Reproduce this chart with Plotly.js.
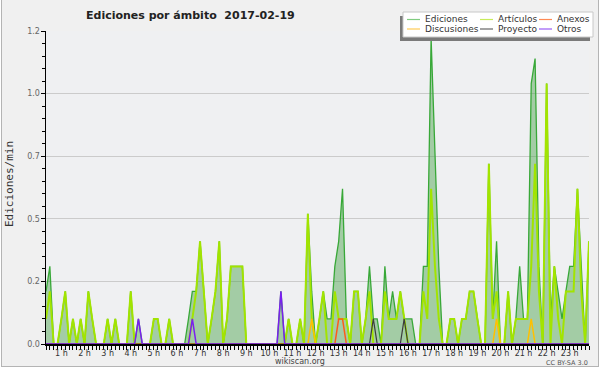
<!DOCTYPE html>
<html><head><meta charset="utf-8">
<script src="https://cdn.plot.ly/plotly-3.0.1.min.js"></script>
<style>
html,body{margin:0;padding:0;background:#fff;}
#wrap{position:relative;width:600px;height:370px;overflow:hidden;}
#frame{position:absolute;left:1px;top:-1px;width:596px;height:366px;background:#f0f0f0;border:1px solid #b4b4b4;}
#chart{position:absolute;left:0;top:0;width:600px;height:370px;}
</style></head>
<body><div id="wrap"><div id="frame"></div><div id="chart"></div></div>
<script>
// time grid: first bin 00:20, one point every 10 minutes, last 23:50
const startHour = 20/60;
const stepHour = 10/60;

// edits per minute, 10-minute bins (12 values per row = 2 hours)
const ediciones = [
 0.21,0.31,0,0,0.10,0.21,0,0.10,0,0.10,0,0.21,
 0.10,0,0,0,0.10,0,0.10,0,0,0,0.21,0,
 0.10,0,0,0,0.10,0.10,0,0,0.10,0,0,0,
 0,0.10,0.21,0.21,0.41,0.21,0,0.10,0.21,0.41,0,0.10,
 0.31,0.31,0.31,0.31,0,0,0,0,0,0,0,0,
 0,0.21,0,0.10,0,0,0.10,0,0.52,0.21,0,0.10,
 0.21,0.10,0.10,0.31,0.41,0.62,0.10,0,0.21,0.21,0,0.10,
 0.31,0.10,0.10,0,0.31,0.10,0.21,0.10,0.21,0.10,0.10,0.10,
 0,0,0.31,0.31,1.22,0.72,0.31,0,0,0.10,0.10,0,
 0.10,0.10,0.21,0.21,0.10,0,0,0.72,0.10,0.41,0,0,
 0.21,0,0.10,0.31,0.10,0.10,1.04,1.14,0.31,0,1.04,0.10,
 0.31,0.21,0.10,0.21,0.31,0.31,0.62,0.31,0,0.41
];
const articulos = [
 0.10,0.21,0,0,0.10,0.21,0,0.10,0,0.10,0,0.21,
 0.10,0,0,0,0.10,0,0.10,0,0,0,0.21,0,
 0,0,0,0,0.10,0.10,0,0,0.10,0,0,0,
 0,0,0.10,0.21,0.41,0.21,0,0.10,0.21,0.41,0,0.10,
 0.31,0.31,0.31,0.31,0,0,0,0,0,0,0,0,
 0,0,0,0.10,0,0,0.10,0,0.52,0.10,0,0.10,
 0.21,0,0,0.21,0.10,0.10,0.10,0,0.21,0.21,0,0.10,
 0.21,0,0,0,0.21,0.10,0.10,0.10,0.21,0.10,0,0,
 0,0,0.21,0.10,0.62,0.31,0.10,0,0,0.10,0.10,0,
 0.10,0.10,0.21,0.21,0.10,0,0,0.72,0.10,0.21,0,0,
 0.21,0,0.10,0.10,0.10,0.10,0.31,0.72,0.21,0,1.04,0,
 0.31,0.10,0,0.21,0.21,0.21,0.62,0.21,0,0.41
];
const anexos = [
 0,0,0,0,0,0,0,0,0,0,0,0,
 0,0,0,0,0,0,0,0,0,0,0,0,
 0,0,0,0,0,0,0,0,0,0,0,0,
 0,0,0,0,0,0,0,0,0,0,0,0,
 0,0,0,0,0,0,0,0,0,0,0,0,
 0,0,0,0,0,0,0,0,0,0,0,0,
 0,0,0,0,0.10,0.10,0,0,0,0,0,0,
 0,0,0,0,0,0,0,0,0,0,0,0,
 0,0,0,0,0,0,0,0,0,0,0,0,
 0,0,0,0,0,0,0,0,0,0,0,0,
 0,0,0,0,0,0,0,0,0,0,0,0,
 0,0,0,0,0,0,0,0,0,0
];
const discusiones = [
 0,0,0,0,0,0,0,0,0,0,0,0,
 0,0,0,0,0,0,0,0,0,0,0,0,
 0,0,0,0,0,0,0,0,0,0,0,0,
 0,0,0,0,0,0,0,0,0,0,0,0,
 0,0,0,0,0,0,0,0,0,0,0,0,
 0,0,0,0,0,0,0,0,0,0.10,0,0,
 0,0,0,0,0,0,0,0,0,0,0,0,
 0,0,0,0,0,0,0,0,0,0,0,0,
 0,0,0,0,0,0,0,0,0,0,0,0,
 0,0,0,0,0,0,0,0,0,0.10,0,0,
 0,0,0,0,0,0,0.10,0,0,0,0,0,
 0,0,0,0,0,0,0,0,0,0
];
const proyecto = [
 0,0,0,0,0,0,0,0,0,0,0,0,
 0,0,0,0,0,0,0,0,0,0,0,0,
 0,0,0,0,0,0,0,0,0,0,0,0,
 0,0,0,0,0,0,0,0,0,0,0,0,
 0,0,0,0,0,0,0,0,0,0,0,0,
 0,0,0,0,0,0,0,0,0,0,0,0,
 0,0,0,0,0,0,0,0,0,0,0,0,
 0,0.10,0,0,0,0,0,0,0,0.10,0,0,
 0,0,0,0,0,0,0,0,0,0,0,0,
 0,0,0,0,0,0,0,0,0,0,0,0,
 0,0,0,0,0,0,0,0,0,0,0,0,
 0,0,0,0,0,0,0,0,0,0
];
const otros = [
 0,0,0,0,0,0,0,0,0,0,0,0,
 0,0,0,0,0,0,0,0,0,0,0,0,
 0.10,0,0,0,0,0,0,0,0,0,0,0,
 0,0,0.10,0,0,0,0,0,0,0,0,0,
 0,0,0,0,0,0,0,0,0,0,0,0,
 0,0.21,0,0,0,0,0,0,0,0,0,0,
 0,0,0,0,0,0,0,0,0,0,0,0,
 0,0,0,0,0,0,0,0,0,0,0,0,
 0,0,0,0,0,0,0,0,0,0,0,0,
 0,0,0,0,0,0,0,0,0,0,0,0,
 0,0,0,0,0,0,0,0,0,0,0,0,
 0,0,0,0,0,0,0,0,0,0
];

const yTickVals = [0, 0.25, 0.5, 0.75, 1.0, 1.25];
const yTickText = ['0.0', '0.2', '0.5', '0.7', '1.0', '1.2'];
const seriesNames = ['Ediciones', 'Artículos', 'Anexos', 'Discusiones', 'Proyecto', 'Otros'];
const titleText = 'Ediciones por ámbito\u00a0\u00a02017-02-19';
const yTitle = 'Ediciones/min';

const times = ediciones.map((_, i) => startHour + i * stepHour);
const tickText = times.map(t => Math.abs(t - Math.round(t)) < 1e-6 ? Math.round(t) + ' h' : '');

// pixel helpers for decorations
const L = 46, R = 589, T = 31, B = 344;
const px = x => (x - L) / (R - L);
const py = y => (B - y) / (B - T);

const lineColors = ['#38a838', '#a2e400', '#ff5a1a', '#ffc000', '#3c3c3c', '#7a1ff0'];
const legendColors = ['#80cc80', '#c8ec5a', '#ff8a55', '#ffcc55', '#666666', '#9a5cf5'];
const seriesData = [ediciones, articulos, anexos, discusiones, proyecto, otros];
const widths = [1.3, 2, 1.5, 1.5, 1.2, 1.5];

const traces = seriesData.map((ys, k) => {
  const tr = {x: times, y: ys, type: 'scatter', mode: 'lines', name: seriesNames[k],
    line: {color: lineColors[k], width: widths[k]}, hoverinfo: 'skip'};
  if (k === 0) { tr.fill = 'tozeroy'; tr.fillcolor = 'rgba(70,160,70,0.45)'; }
  return tr;
});

// legend layout (pixel positions)
const legCols = [[407, 424], [480, 497], [539, 556]];
const legRows = [19.5, 29];
const legOrder = [0, 1, 2, 3, 4, 5];
const shapes = [
  {type: 'rect', xref: 'paper', yref: 'paper', x0: px(400), x1: px(590), y0: py(16), y1: py(41),
   fillcolor: '#7a7a7a', line: {width: 0}, layer: 'above'},
  {type: 'rect', xref: 'paper', yref: 'paper', x0: px(403), x1: px(593), y0: py(12), y1: py(37),
   fillcolor: '#ffffff', line: {color: '#c8c8c8', width: 1}, layer: 'above'}
];
const annotations = [];
legOrder.forEach((k, idx) => {
  const col = legCols[idx % 3], row = legRows[Math.floor(idx / 3)];
  shapes.push({type: 'line', xref: 'paper', yref: 'paper', x0: px(col[0]), x1: px(col[0] + 13),
    y0: py(row), y1: py(row), line: {color: legendColors[k], width: 1.2}, layer: 'above'});
  annotations.push({xref: 'paper', yref: 'paper', x: px(col[1]), y: py(row), xanchor: 'left', yanchor: 'middle',
    text: seriesNames[k], showarrow: false, borderpad: 0,
    font: {family: 'DejaVu Sans', size: 9, color: '#333'}});
});
annotations.push({xref: 'paper', yref: 'paper', x: px(85), y: py(15), xanchor: 'left', yanchor: 'middle',
  text: '<b>' + titleText + '</b>', showarrow: false, borderpad: 0,
  font: {family: 'DejaVu Sans', size: 11, color: '#222'}});
annotations.push({xref: 'paper', yref: 'paper', x: px(9), y: py(184), xanchor: 'center', yanchor: 'middle',
  text: yTitle, textangle: -90, showarrow: false, borderpad: 0,
  font: {family: 'DejaVu Sans Mono', size: 11, color: '#333'}});
annotations.push({xref: 'paper', yref: 'paper', x: px(300), y: py(361.5), xanchor: 'center', yanchor: 'middle',
  text: 'wikiscan.org', showarrow: false, borderpad: 0,
  font: {family: 'DejaVu Sans', size: 8, color: '#444'}});
annotations.push({xref: 'paper', yref: 'paper', x: px(589), y: py(362.5), xanchor: 'right', yanchor: 'middle',
  text: 'CC BY-SA 3.0', showarrow: false, borderpad: 0,
  font: {family: 'DejaVu Sans', size: 6.5, color: '#555'}});

const layout = {
  width: 600, height: 370,
  margin: {l: 46, r: 11, t: 31, b: 26, pad: 0},
  paper_bgcolor: 'rgba(0,0,0,0)', plot_bgcolor: '#eff0f2',
  showlegend: false,
  xaxis: {range: [times[0], times[times.length - 1]], tickmode: 'array', tickvals: times, ticktext: tickText,
    ticks: 'outside', ticklen: 4, tickwidth: 1, tickcolor: '#000', ticklabelstandoff: -4,
    showline: true, linecolor: '#000', linewidth: 2, showgrid: false, zeroline: false,
    tickfont: {family: 'DejaVu Sans', size: 8, color: '#333'}, fixedrange: true},
  yaxis: {range: [0, 1.25], tickmode: 'array', tickvals: yTickVals, ticktext: yTickText,
    ticks: 'outside', ticklen: 4, tickwidth: 1, tickcolor: '#000', ticklabelstandoff: -1,
    showline: true, linecolor: '#000', linewidth: 1.5, showgrid: true, gridcolor: '#cbcbcb', gridwidth: 1,
    zeroline: false, tickfont: {family: 'DejaVu Sans', size: 8, color: '#666'},
    minor: {tickmode: 'linear', tick0: 0, dtick: 0.05, ticks: 'outside', ticklen: 3, tickcolor: '#000', showgrid: false},
    fixedrange: true},
  shapes: shapes,
  annotations: annotations
};

Plotly.newPlot('chart', traces, layout, {staticPlot: true, displayModeBar: false});
</script>
</body></html>
